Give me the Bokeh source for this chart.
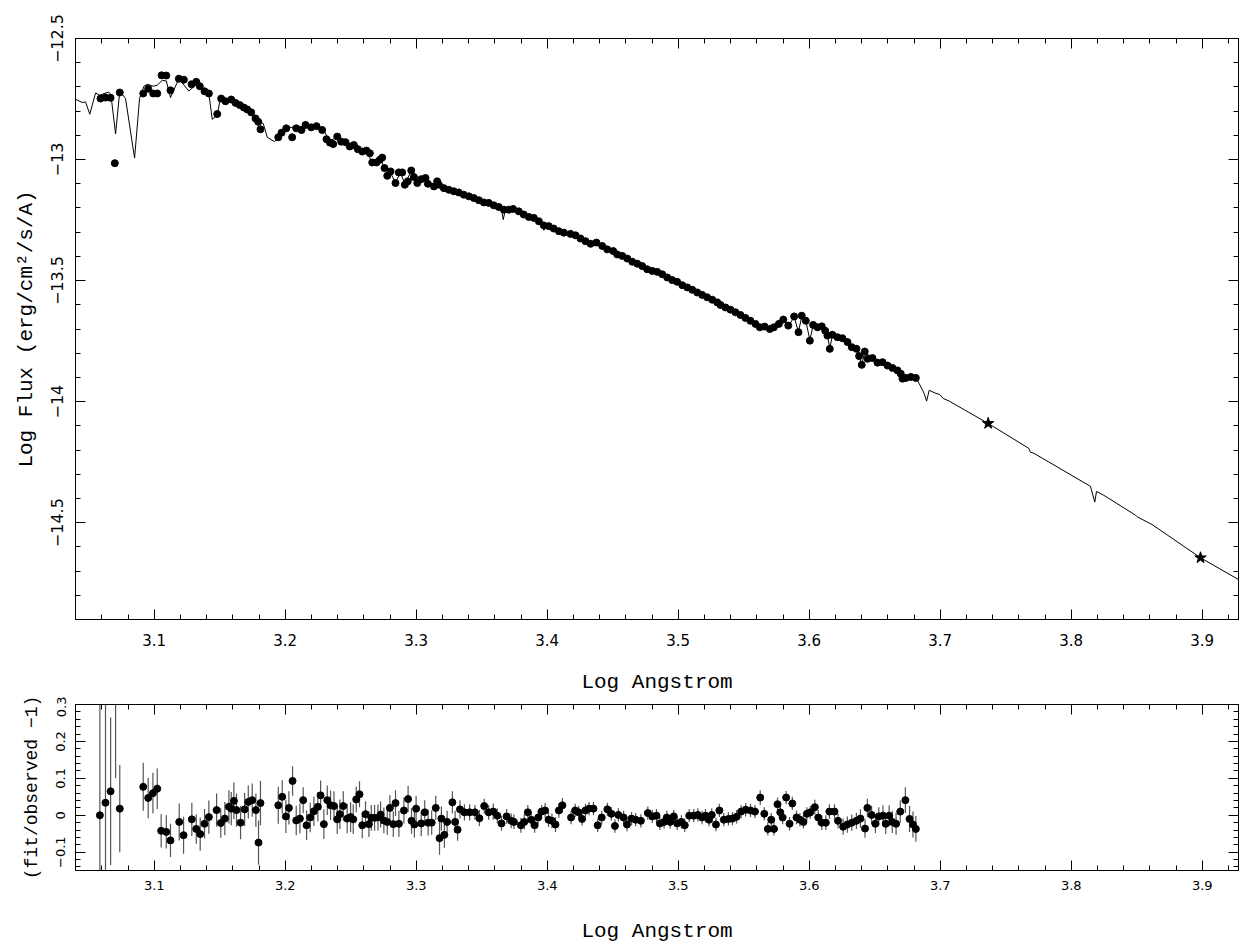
from bokeh.plotting import figure
from bokeh.models import (LinearAxis, SingleIntervalTicker, CustomJSTickFormatter,
                          Range1d, ColumnDataSource)
from bokeh.layouts import column
from bokeh.embed import file_html
from bokeh.resources import INLINE

# ---------------- data ----------------
# observed spectrum (log wavelength, log flux)
obs_x = [3.0590, 3.0628, 3.0667, 3.0699, 3.0737, 3.0916, 3.0954, 3.0992, 3.1023, 3.1056,
         3.1092, 3.1124, 3.1188, 3.1226, 3.1285, 3.1321, 3.1348, 3.1384, 3.1417, 3.1481,
         3.1511, 3.1544, 3.1588, 3.1621, 3.1653, 3.1684, 3.1710, 3.1740, 3.1773, 3.1794,
         3.1811, 3.1947, 3.1972, 3.2008, 3.2053, 3.2084, 3.2124, 3.2155, 3.2198, 3.2239,
         3.2282, 3.2315, 3.2341, 3.2366, 3.2397, 3.2427, 3.2460, 3.2493, 3.2524, 3.2554,
         3.2588, 3.2620, 3.2646, 3.2664, 3.2697, 3.2722, 3.2740, 3.2758, 3.2779, 3.2804,
         3.2842, 3.2867, 3.2893, 3.2913, 3.2936, 3.2962, 3.2982, 3.3008, 3.3038, 3.3071,
         3.3089, 3.3135, 3.3160, 3.3173, 3.3211, 3.3249, 3.3287, 3.3325, 3.3363, 3.3402,
         3.3440, 3.3478, 3.3516, 3.3554, 3.3592, 3.3630, 3.3669, 3.3707, 3.3740, 3.3783,
         3.3821, 3.3859, 3.3898, 3.3936, 3.3974, 3.4012, 3.4050, 3.4089, 3.4127, 3.4178,
         3.4216, 3.4254, 3.4292, 3.4331, 3.4376, 3.4420, 3.4458, 3.4504, 3.4534, 3.4573,
         3.4611, 3.4649, 3.4687, 3.4725, 3.4763, 3.4802, 3.4840, 3.4878, 3.4916, 3.4954,
         3.4992, 3.5031, 3.5069, 3.5107, 3.5145, 3.5183, 3.5221, 3.5260, 3.5298, 3.5323,
         3.5361, 3.5399, 3.5437, 3.5475, 3.5513, 3.5551, 3.5590, 3.5623, 3.5659, 3.5699,
         3.5730, 3.5768, 3.5802, 3.5840, 3.5885, 3.5918, 3.5943, 3.5974, 3.6005, 3.6030,
         3.6063, 3.6096, 3.6122, 3.6139, 3.6157, 3.6177, 3.6216, 3.6254, 3.6292, 3.6325,
         3.6361, 3.6381, 3.6401, 3.6424, 3.6445, 3.6483, 3.6521, 3.6560, 3.6598, 3.6636,
         3.6674, 3.6699, 3.6712, 3.6738, 3.6776, 3.6814]
obs_y = [-12.748, -12.744, -12.745, -13.015, -12.723, -12.727, -12.707, -12.727, -12.727, -12.652,
         -12.653, -12.714, -12.666, -12.670, -12.689, -12.679, -12.697, -12.718, -12.727, -12.812,
         -12.748, -12.759, -12.752, -12.766, -12.775, -12.785, -12.793, -12.805, -12.830, -12.844,
         -12.875, -12.908, -12.889, -12.871, -12.908, -12.871, -12.878, -12.857, -12.867, -12.862,
         -12.878, -12.916, -12.930, -12.936, -12.905, -12.926, -12.928, -12.946, -12.940, -12.957,
         -12.967, -12.963, -12.974, -13.012, -13.012, -13.001, -12.992, -13.035, -13.067, -13.049,
         -13.097, -13.053, -13.053, -13.104, -13.090, -13.045, -13.072, -13.097, -13.081, -13.076,
         -13.100, -13.111, -13.090, -13.104, -13.118, -13.125, -13.131, -13.136, -13.145, -13.152,
         -13.159, -13.168, -13.177, -13.179, -13.189, -13.196, -13.207, -13.207, -13.204, -13.214,
         -13.227, -13.237, -13.241, -13.255, -13.272, -13.275, -13.285, -13.296, -13.302, -13.307,
         -13.313, -13.326, -13.337, -13.348, -13.343, -13.357, -13.371, -13.378, -13.392, -13.398,
         -13.409, -13.422, -13.430, -13.440, -13.453, -13.460, -13.464, -13.474, -13.487, -13.498,
         -13.505, -13.519, -13.528, -13.538, -13.549, -13.559, -13.569, -13.579, -13.590, -13.601,
         -13.611, -13.620, -13.631, -13.642, -13.654, -13.666, -13.679, -13.693, -13.690, -13.700,
         -13.693, -13.679, -13.661, -13.686, -13.648, -13.713, -13.645, -13.666, -13.748, -13.683,
         -13.693, -13.689, -13.707, -13.727, -13.782, -13.724, -13.734, -13.738, -13.754, -13.775,
         -13.782, -13.812, -13.848, -13.793, -13.823, -13.820, -13.839, -13.837, -13.851, -13.861,
         -13.871, -13.885, -13.905, -13.902, -13.898, -13.902]

# model spectrum
model_x = [3.0400, 3.0450, 3.0476, 3.0508, 3.0552, 3.0582, 3.0653, 3.0669, 3.0705, 3.0737,
           3.0781, 3.0850, 3.0888, 3.0921, 3.0947, 3.0992, 3.1023, 3.1061, 3.1092, 3.1124,
           3.1188, 3.1264, 3.1315, 3.1366, 3.1417, 3.1443, 3.1481, 3.1506, 3.1595, 3.1672,
           3.1748, 3.1798, 3.1832, 3.1863, 3.1918, 3.1951, 3.2002, 3.2155, 3.2240, 3.2290,
           3.2340, 3.2400, 3.2490, 3.2560, 3.2620, 3.2660, 3.2720, 3.2760, 3.2800, 3.2840,
           3.2880, 3.2913, 3.2960, 3.3010, 3.3070, 3.3135, 3.3200, 3.3300, 3.3400, 3.3500,
           3.3600, 3.3650, 3.3664, 3.3680, 3.3750, 3.3850, 3.3950, 3.3974, 3.4000, 3.4100,
           3.4200, 3.4300, 3.4400, 3.4500, 3.4600, 3.4700, 3.4800, 3.4900, 3.5000, 3.5100,
           3.5200, 3.5300, 3.5400, 3.5500, 3.5600, 3.5660, 3.5700, 3.5768, 3.5809, 3.5847,
           3.5885, 3.5918, 3.5943, 3.5974, 3.6005, 3.6030, 3.6096, 3.6139, 3.6157, 3.6177,
           3.6254, 3.6325, 3.6361, 3.6401, 3.6424, 3.6483, 3.6560, 3.6636, 3.6699, 3.6738,
           3.6814, 3.6840, 3.6878, 3.6896, 3.6916, 3.6954, 3.6997, 3.7023, 3.7069, 3.7366,
           3.7676, 3.7689, 3.7714, 3.8147, 3.8180, 3.8193, 3.8249, 3.8491, 3.8504, 3.8618,
           3.8987, 3.9293]
model_y = [-12.751, -12.764, -12.762, -12.813, -12.725, -12.734, -12.721, -12.731, -12.894, -12.717,
           -12.748, -12.994, -12.748, -12.697, -12.689, -12.697, -12.693, -12.673, -12.675, -12.744,
           -12.666, -12.717, -12.693, -12.714, -12.727, -12.834, -12.816, -12.744, -12.762, -12.782,
           -12.807, -12.844, -12.851, -12.908, -12.926, -12.903, -12.868, -12.864, -12.860, -12.875,
           -12.925, -12.905, -12.940, -12.955, -12.960, -13.010, -12.995, -13.035, -13.050, -13.095,
           -13.055, -13.100, -13.050, -13.095, -13.078, -13.108, -13.115, -13.133, -13.150, -13.172,
           -13.190, -13.200, -13.248, -13.210, -13.206, -13.235, -13.262, -13.292, -13.275, -13.297,
           -13.312, -13.340, -13.350, -13.377, -13.405, -13.436, -13.458, -13.482, -13.508, -13.535,
           -13.563, -13.592, -13.620, -13.650, -13.682, -13.695, -13.710, -13.685, -13.662, -13.684,
           -13.650, -13.712, -13.648, -13.666, -13.746, -13.685, -13.690, -13.727, -13.780, -13.726,
           -13.740, -13.773, -13.782, -13.846, -13.795, -13.820, -13.838, -13.860, -13.885, -13.900,
           -13.902, -13.926, -13.967, -13.998, -13.953, -13.963, -13.971, -13.987, -13.998, -14.090,
           -14.193, -14.209, -14.213, -14.350, -14.415, -14.371, -14.387, -14.469, -14.476, -14.508,
           -14.645, -14.740]

# photometric points (stars)
phot_x = [3.7366, 3.8987]
phot_y = [-14.090, -14.645]

# residuals (fit/observed - 1) with errors
res_x = [3.0585, 3.0628, 3.0667, 3.0705, 3.0737, 3.0916, 3.0954, 3.0990, 3.1023, 3.1053,
         3.1092, 3.1124, 3.1191, 3.1224, 3.1287, 3.1321, 3.1351, 3.1384, 3.1417, 3.1476,
         3.1508, 3.1539, 3.1570, 3.1588, 3.1608, 3.1628, 3.1659, 3.1690, 3.1718, 3.1748,
         3.1776, 3.1796, 3.1811, 3.1947, 3.1977, 3.2005, 3.2028, 3.2056, 3.2084, 3.2112,
         3.2137, 3.2163, 3.2191, 3.2219, 3.2249, 3.2270, 3.2295, 3.2321, 3.2346, 3.2372,
         3.2397, 3.2417, 3.2443, 3.2473, 3.2499, 3.2519, 3.2542, 3.2567, 3.2588, 3.2613,
         3.2639, 3.2657, 3.2682, 3.2708, 3.2728, 3.2753, 3.2779, 3.2799, 3.2825, 3.2842,
         3.2868, 3.2906, 3.2938, 3.2964, 3.2986, 3.2999, 3.3038, 3.3065, 3.3091, 3.3118,
         3.3149, 3.3178, 3.3192, 3.3215, 3.3236, 3.3276, 3.3297, 3.3316, 3.3334, 3.3368,
         3.3408, 3.3448, 3.3482, 3.3519, 3.3553, 3.3588, 3.3619, 3.3651, 3.3690, 3.3725,
         3.3746, 3.3799, 3.3825, 3.3852, 3.3878, 3.3904, 3.3931, 3.3957, 3.3984, 3.4010,
         3.4036, 3.4063, 3.4089, 3.4116, 3.4182, 3.4213, 3.4240, 3.4266, 3.4292, 3.4319,
         3.4353, 3.4385, 3.4416, 3.4459, 3.4490, 3.4517, 3.4543, 3.4583, 3.4609, 3.4644,
         3.4675, 3.4715, 3.4768, 3.4802, 3.4834, 3.4860, 3.4892, 3.4913, 3.4939, 3.4966,
         3.4992, 3.5024, 3.5050, 3.5084, 3.5119, 3.5150, 3.5182, 3.5208, 3.5235, 3.5256,
         3.5288, 3.5314, 3.5348, 3.5383, 3.5414, 3.5446, 3.5480, 3.5515, 3.5552, 3.5586,
         3.5626, 3.5657, 3.5684, 3.5710, 3.5731, 3.5758, 3.5779, 3.5797, 3.5824, 3.5850,
         3.5871, 3.5903, 3.5929, 3.5956, 3.5982, 3.6008, 3.6043, 3.6069, 3.6096, 3.6127,
         3.6154, 3.6193, 3.6220, 3.6259, 3.6291, 3.6325, 3.6360, 3.6391, 3.6426, 3.6444,
         3.6476, 3.6505, 3.6531, 3.6563, 3.6584, 3.6610, 3.6634, 3.6663, 3.6695, 3.6734,
         3.6766, 3.6792, 3.6814]
res_y = [0.000, 0.034, 0.065, 0.380, 0.018, 0.077, 0.047, 0.060, 0.072, -0.042,
         -0.045, -0.068, -0.018, -0.054, -0.011, -0.037, -0.051, -0.023, -0.005, 0.014,
         -0.021, -0.009, 0.023, 0.018, 0.039, 0.014, -0.020, 0.016, 0.036, 0.041,
         0.014, -0.074, 0.033, 0.027, 0.050, -0.003, 0.020, 0.093, -0.014, -0.009,
         0.041, -0.027, -0.006, 0.011, 0.023, 0.054, -0.024, 0.041, 0.027, 0.025,
         -0.011, 0.003, 0.025, -0.009, -0.005, -0.011, 0.043, 0.057, -0.027, 0.003,
         -0.024, -0.007, -0.007, -0.006, 0.002, -0.014, -0.018, 0.020, -0.024, 0.033,
         -0.023, 0.013, 0.044, -0.015, -0.025, 0.018, -0.022, 0.008, -0.020, -0.020,
         0.020, -0.062, -0.009, -0.053, -0.018, 0.035, -0.018, -0.039, 0.016, 0.008,
         0.008, 0.008, -0.008, 0.025, 0.008, 0.010, -0.001, -0.022, -0.003, -0.015,
         -0.018, -0.027, -0.018, 0.008, -0.012, -0.027, -0.006, 0.010, 0.013, -0.012,
         -0.015, -0.025, 0.013, 0.027, -0.006, 0.013, 0.008, -0.010, 0.013, 0.018,
         0.018, -0.027, -0.006, 0.016, 0.004, -0.029, 0.001, -0.006, -0.025, -0.009,
         -0.012, -0.015, 0.006, -0.003, -0.001, -0.022, -0.018, -0.006, -0.018, -0.003,
         -0.022, -0.018, -0.027, -0.001, -0.001, 0.001, -0.006, -0.001, -0.012, 0.001,
         -0.025, 0.013, -0.012, -0.010, -0.009, -0.004, 0.010, 0.015, 0.013, 0.010,
         0.048, 0.004, -0.037, -0.012, -0.037, 0.030, 0.008, -0.006, 0.048, -0.023,
         0.032, -0.006, -0.012, -0.018, 0.004, 0.008, 0.022, -0.006, -0.020, -0.020,
         0.010, 0.010, -0.015, -0.031, -0.025, -0.020, -0.015, -0.009, -0.036, 0.020,
         0.001, -0.023, -0.003, -0.001, -0.023, -0.001, -0.018, -0.023, 0.010, 0.041,
         -0.010, -0.025, -0.037]
res_err = [0.600, 0.600, 0.200, 0.280, 0.118, 0.065, 0.055, 0.055, 0.055, 0.045,
           0.045, 0.045, 0.050, 0.050, 0.045, 0.040, 0.045, 0.040, 0.045, 0.045,
           0.040, 0.045, 0.045, 0.045, 0.050, 0.045, 0.045, 0.045, 0.045, 0.045,
           0.045, 0.060, 0.060, 0.050, 0.045, 0.045, 0.045, 0.040, 0.040, 0.040,
           0.035, 0.040, 0.040, 0.040, 0.040, 0.040, 0.040, 0.040, 0.040, 0.040,
           0.040, 0.040, 0.040, 0.040, 0.040, 0.040, 0.035, 0.035, 0.035, 0.035,
           0.035, 0.035, 0.035, 0.035, 0.035, 0.035, 0.035, 0.035, 0.035, 0.035,
           0.035, 0.035, 0.035, 0.035, 0.035, 0.035, 0.035, 0.033, 0.035, 0.033,
           0.033, 0.045, 0.033, 0.035, 0.030, 0.030, 0.030, 0.030, 0.025, 0.022,
           0.022, 0.020, 0.022, 0.020, 0.020, 0.022, 0.020, 0.020, 0.020, 0.020,
           0.020, 0.020, 0.020, 0.020, 0.020, 0.020, 0.018, 0.018, 0.020, 0.020,
           0.020, 0.020, 0.020, 0.020, 0.018, 0.018, 0.018, 0.018, 0.018, 0.018,
           0.018, 0.018, 0.018, 0.018, 0.018, 0.018, 0.018, 0.018, 0.018, 0.018,
           0.018, 0.018, 0.018, 0.018, 0.018, 0.018, 0.018, 0.018, 0.018, 0.018,
           0.018, 0.018, 0.018, 0.018, 0.018, 0.018, 0.018, 0.018, 0.018, 0.018,
           0.018, 0.018, 0.018, 0.018, 0.018, 0.018, 0.018, 0.018, 0.018, 0.018,
           0.020, 0.018, 0.018, 0.018, 0.018, 0.018, 0.018, 0.018, 0.018, 0.018,
           0.018, 0.018, 0.018, 0.018, 0.018, 0.018, 0.020, 0.020, 0.020, 0.020,
           0.020, 0.020, 0.020, 0.022, 0.022, 0.022, 0.022, 0.025, 0.025, 0.025,
           0.025, 0.025, 0.025, 0.028, 0.028, 0.028, 0.030, 0.030, 0.030, 0.035,
           0.035, 0.035, 0.035]

assert len(obs_x) == len(obs_y)
assert len(model_x) == len(model_y)
assert len(res_x) == len(res_y) == len(res_err)

# ---------------- styling helpers ----------------
TICK_FONT = "DejaVu Sans"
LABEL_FONT = "Liberation Mono"

num_fmt = CustomJSTickFormatter(code="""
    var v = Math.round(tick * 10) / 10;
    if (Math.abs(v) < 1e-9) { return "0"; }
    var s = Math.abs(v).toString();
    return (v < 0 ? "\u2212" : "") + s;
""")
x_fmt = CustomJSTickFormatter(code="return tick.toFixed(1);")
blank_fmt = CustomJSTickFormatter(code="return '';")


def style_axis(ax, font_size):
    ax.axis_line_color = "black"
    ax.major_tick_line_color = "black"
    ax.minor_tick_line_color = "black"
    ax.major_tick_in = 10
    ax.major_tick_out = 0
    ax.minor_tick_in = 5
    ax.minor_tick_out = 0
    ax.major_label_text_font = TICK_FONT
    ax.major_label_text_font_size = font_size
    ax.major_label_text_color = "black"
    ax.axis_label_text_font = LABEL_FONT
    ax.axis_label_text_font_style = "normal"
    ax.axis_label_text_color = "black"


def add_box_axes(p, xticker, yticker):
    top = LinearAxis(ticker=xticker, formatter=blank_fmt, major_label_standoff=0)
    right = LinearAxis(ticker=yticker, formatter=blank_fmt, major_label_standoff=0)
    for ax in (top, right):
        style_axis(ax, "0px")
    p.add_layout(top, "above")
    p.add_layout(right, "right")


X_RANGE = (3.0399, 3.9277)

# ---------------- top panel ----------------
xt1 = SingleIntervalTicker(interval=0.1, num_minor_ticks=5)
yt1 = SingleIntervalTicker(interval=0.5, num_minor_ticks=5)

p1 = figure(width=1240, height=696, output_backend="svg", toolbar_location=None,
            x_range=Range1d(*X_RANGE), y_range=Range1d(-14.9, -12.4999),
            min_border_left=75, min_border_right=2, min_border_top=38, min_border_bottom=76)
p1.xaxis.ticker = xt1
p1.yaxis.ticker = yt1
p1.xaxis.formatter = x_fmt
p1.yaxis.formatter = num_fmt
p1.xgrid.visible = False
p1.ygrid.visible = False
p1.outline_line_color = "black"
style_axis(p1.xaxis[0], "15px")
style_axis(p1.yaxis[0], "16px")
p1.xaxis.axis_label = "Log Angstrom"
p1.yaxis.axis_label = "Log Flux (erg/cm\u00b2/s/A)"
p1.xaxis.axis_label_text_font_size = "21px"
p1.yaxis.axis_label_text_font_size = "21px"
p1.xaxis.major_label_standoff = 14
p1.xaxis.axis_label_standoff = 22
p1.yaxis.major_label_orientation = "vertical"
p1.yaxis.major_label_standoff = 12
p1.yaxis.axis_label_standoff = 11
add_box_axes(p1, xt1, yt1)

p1.line(model_x, model_y, line_color="black", line_width=1)
p1.scatter(obs_x, obs_y, marker="circle", size=7, fill_color="black", line_color="black")
p1.scatter(phot_x, phot_y, marker="star", size=12, fill_color="black", line_color="black")

# ---------------- bottom panel ----------------
xt2 = SingleIntervalTicker(interval=0.1, num_minor_ticks=5)
yt2 = SingleIntervalTicker(interval=0.1, num_minor_ticks=5)

p2 = figure(width=1240, height=249, output_backend="svg", toolbar_location=None,
            x_range=Range1d(*X_RANGE), y_range=Range1d(-0.1496, 0.3001),
            min_border_left=75, min_border_right=2, min_border_top=8, min_border_bottom=75)
p2.xaxis.ticker = xt2
p2.yaxis.ticker = yt2
p2.xaxis.formatter = x_fmt
p2.yaxis.formatter = num_fmt
p2.xgrid.visible = False
p2.ygrid.visible = False
p2.outline_line_color = "black"
style_axis(p2.xaxis[0], "13px")
style_axis(p2.yaxis[0], "13px")
p2.xaxis.axis_label = "Log Angstrom"
p2.yaxis.axis_label = "(fit/observed \u22121)"
p2.xaxis.axis_label_text_font_size = "21px"
p2.yaxis.axis_label_text_font_size = "18px"
p2.xaxis.major_label_standoff = 10
p2.xaxis.axis_label_standoff = 27
p2.yaxis.major_label_orientation = "vertical"
p2.yaxis.major_label_standoff = 10
p2.yaxis.axis_label_standoff = 12
add_box_axes(p2, xt2, yt2)

res_src = ColumnDataSource(dict(
    x=res_x, y=res_y,
    lo=[v - e for v, e in zip(res_y, res_err)],
    hi=[v + e for v, e in zip(res_y, res_err)],
))
p2.segment(x0="x", y0="lo", x1="x", y1="hi", source=res_src, line_color="#555555", line_width=1.2)
p2.scatter(x="x", y="y", source=res_src, marker="circle", size=7, fill_color="black", line_color="black")

layout = column(p1, p2)
open("out.html", "w").write(file_html(layout, INLINE))
